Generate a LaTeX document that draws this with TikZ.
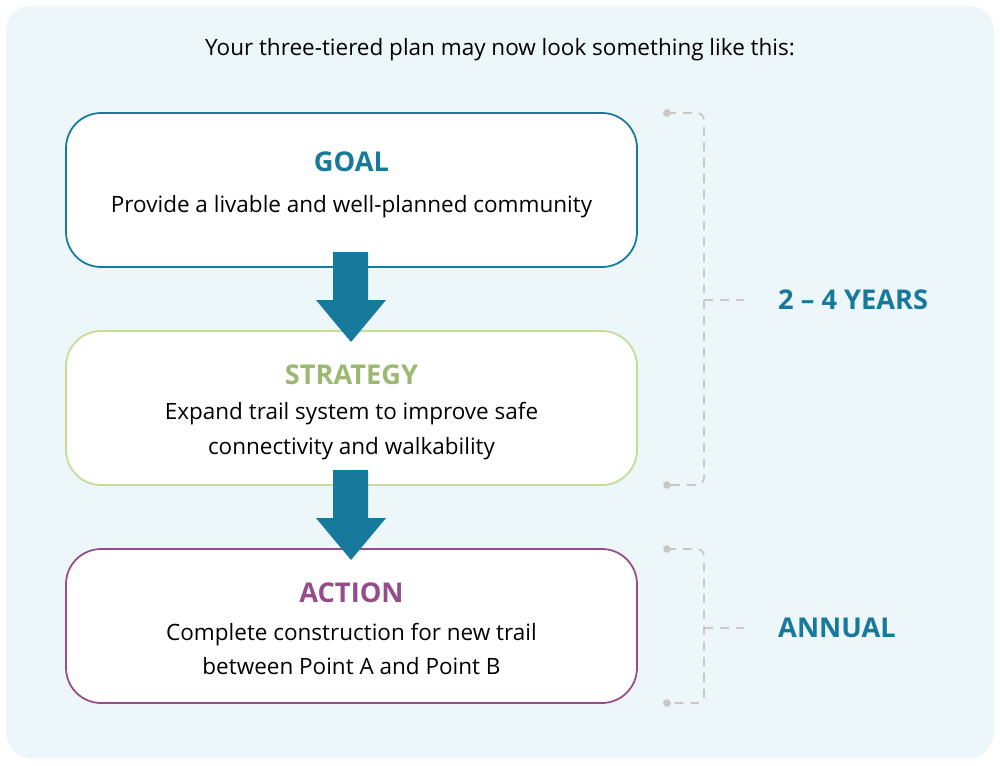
\documentclass[tikz,border=0pt]{standalone}
\usepackage{fontspec}
\setmainfont{Open Sans}
\definecolor{bgblue}{HTML}{EDF6F9}
\definecolor{goalc}{HTML}{17799B}
\definecolor{stratc}{HTML}{9DB872}
\definecolor{stratline}{HTML}{C3DD98}
\definecolor{actc}{HTML}{944C8A}
\definecolor{dashc}{HTML}{C8C8C8}
\begin{document}
\begin{tikzpicture}[x=0.02cm, y=-0.02cm,
    tier/.style={draw, line width=1pt, fill=white, rounded corners=20, minimum width=571*0.02cm, minimum height=154*0.02cm},
    head/.style={font=\fontsize{15.5}{18}\selectfont\bfseries},
    body/.style={font=\fontsize{12.8}{19.5}\selectfont, align=center},
    span/.style={font=\fontsize{15.5}{18}\selectfont\bfseries, text=goalc, anchor=west},
    brace/.style={dashc, line width=1pt, dash pattern=on 5pt off 4pt, rounded corners=4}]
        \useasboundingbox (0,0) rectangle (1000,765);
        \fill[bgblue, rounded corners=14] (6,6) rectangle (994,758);

        %title
        \node (title) at (500,50) {\fontsize{12.8}{14}\selectfont Your three-tiered plan may now look something like this:};

        %tiers
        \node[tier, draw=goalc] (goal) at (351.5,190) {};
        \node[tier, draw=stratline] (strategy) at (351.5,408) {};
        \node[tier, draw=actc] (action) at (351.5,626) {};
        \node[head, text=goalc] (goalh) at (351.5,162) {GOAL};
        \node[body] (goalt) at (351.5,207) {Provide a livable and well-planned community};
        \node[head, text=stratc] (strath) at (351.5,375) {STRATEGY};
        \node[body] (stratt) at (351.5,431) {Expand trail system to improve safe\\connectivity and walkability};
        \node[head, text=actc] (acth) at (351.5,593) {ACTION};
        \node[body] (actt) at (351.5,649) {Complete construction for new trail\\between Point A and Point B};

        %arrows
        \fill[goalc] (333,252) -- (368,252) -- (368,300) -- (386,300) -- (351,342) -- (316,300) -- (333,300) -- cycle;
        \fill[goalc] (333,470) -- (368,470) -- (368,518) -- (386,518) -- (351,560) -- (316,518) -- (333,518) -- cycle;

        %brackets
        \coordinate (b1top) at (667,113);
        \coordinate (b1bot) at (667,485);
        \coordinate (b2top) at (667,549);
        \coordinate (b2bot) at (667,703);
        \coordinate (t1) at (750,300);
        \coordinate (t2) at (750,628);
        \draw[brace] (b1top) -- (704,113) -- (704,485) -- (b1bot);
        \draw[brace] (b2top) -- (704,549) -- (704,703) -- (b2bot);
        \foreach \p in {b1top,b1bot,b2top,b2bot} \fill[dashc] (\p) circle (2.2pt);
        \draw[brace] (704,300) -- (t1);
        \draw[brace] (704,628) -- (t2);
        \node[span] (years) at (772,300) {2 – 4 YEARS};
        \node[span] (annual) at (772,628) {ANNUAL};
\end{tikzpicture}
\end{document}
